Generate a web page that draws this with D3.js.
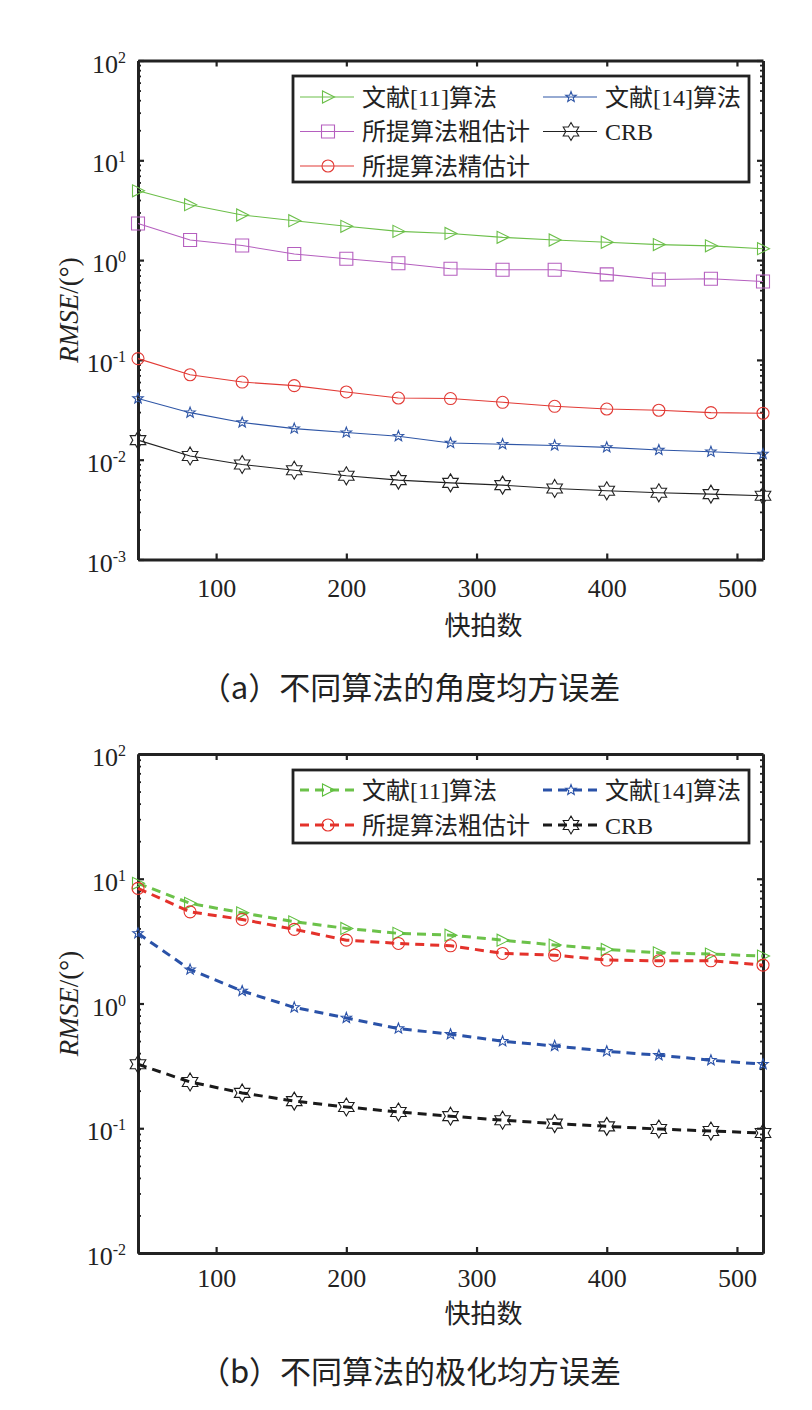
<!DOCTYPE html>
<html>
<head>
<meta charset="utf-8">
<script src="https://cdn.jsdelivr.net/npm/d3@7"></script>
<style>
  body { margin: 0; background: #fff; }
  text { fill: #222; }
</style>
</head>
<body>
<svg id="chart" width="812" height="1410"></svg>
<script>
// snapshot counts (x axis)
const snapshots = [40, 80, 120, 160, 200, 240, 280, 320, 360, 400, 440, 480, 520];
const xTicks = [100, 200, 300, 400, 500];

// (a) angle RMSE
const angRef11   = [4.95, 3.59, 2.83, 2.48, 2.18, 1.94, 1.85, 1.69, 1.59, 1.51, 1.43, 1.39, 1.30];
const angRef14   = [0.041, 0.0296, 0.0236, 0.0205, 0.0187, 0.0172, 0.0147, 0.0143, 0.0139, 0.0133, 0.0125, 0.0120, 0.0114];
const angCoarse  = [2.33, 1.59, 1.40, 1.15, 1.03, 0.93, 0.82, 0.80, 0.80, 0.72, 0.64, 0.65, 0.61];
const angFine    = [0.103, 0.071, 0.060, 0.0552, 0.0477, 0.0415, 0.041, 0.0376, 0.0343, 0.0322, 0.0313, 0.0296, 0.0292];
const angCRB     = [0.0157, 0.0109, 0.00895, 0.00785, 0.0069, 0.00624, 0.00586, 0.00556, 0.00515, 0.00488, 0.00466, 0.00452, 0.00435];

// (b) polarization RMSE
const polRef11   = [9.19, 6.35, 5.33, 4.52, 4.0, 3.65, 3.53, 3.22, 2.94, 2.71, 2.55, 2.49, 2.40];
const polRef14   = [3.65, 1.87, 1.26, 0.93, 0.766, 0.63, 0.567, 0.498, 0.457, 0.414, 0.385, 0.351, 0.326];
const polCoarse  = [8.38, 5.43, 4.72, 3.93, 3.22, 3.03, 2.90, 2.52, 2.44, 2.23, 2.20, 2.20, 2.03];
const polCRB     = [0.326, 0.235, 0.192, 0.165, 0.148, 0.135, 0.125, 0.116, 0.109, 0.1035, 0.0986, 0.095, 0.0916];

const labels = {
  ref11: "文献[11]算法",
  ref14: "文献[14]算法",
  coarse: "所提算法粗估计",
  fine: "所提算法精估计",
  crb: "CRB"
};

const serif = "'Liberation Serif', 'Noto Sans CJK SC', serif";
const numFont = "'Liberation Serif', serif";
const svg = d3.select("#chart");

// marker shapes
function starPath(n, ro, ri) {
  const pts = [];
  for (let i = 0; i < 2 * n; i++) {
    const r = i % 2 === 0 ? ro : ri;
    const a = -Math.PI / 2 + (Math.PI * i) / n;
    pts.push([r * Math.cos(a), r * Math.sin(a)]);
  }
  return "M" + pts.map(p => p[0].toFixed(2) + "," + p[1].toFixed(2)).join("L") + "Z";
}
const markers = {
  tri: "M6.5,0L-5.5,-6L-5.5,6Z",
  square: "M-6.5,-6.5H6.5V6.5H-6.5Z",
  circle: "M6,0A6,6 0 1,1 -6,0A6,6 0 1,1 6,0Z",
  star: starPath(5, 5.5, 2.3),
  hexa: starPath(6, 9, 5.2)
};

function drawPanel(cfg) {
  const left = 138, width = 625, height = 499;
  const g = svg.append("g").attr("transform", `translate(${left},${cfg.top})`);

  const x = d3.scaleLinear().domain([40, 520]).range([0, width]);
  const y = d3.scaleLog().domain(cfg.yDomain).range([height, 0]);

  const lo = Math.log10(cfg.yDomain[0]), hi = Math.log10(cfg.yDomain[1]);
  const decades = d3.range(lo, hi + 1).map(e => Math.pow(10, e));
  const minors = [];
  d3.range(lo, hi).forEach(e => {
    for (let k = 2; k <= 9; k++) minors.push(k * Math.pow(10, e));
  });

  const styleAxis = (sel, w) => {
    sel.select(".domain").attr("stroke", "#222").attr("stroke-width", 2.8);
    sel.selectAll(".tick line").attr("stroke", "#222").attr("stroke-width", w);
  };

  // minor log ticks
  g.append("g").call(d3.axisLeft(y).tickValues(minors).tickSize(-3).tickSizeOuter(0).tickFormat(""))
    .call(s => styleAxis(s, 1.8));
  g.append("g").attr("transform", `translate(${width},0)`)
    .call(d3.axisRight(y).tickValues(minors).tickSize(-3).tickSizeOuter(0).tickFormat(""))
    .call(s => styleAxis(s, 1.8));
  // major ticks
  g.append("g").call(d3.axisLeft(y).tickValues(decades).tickSize(-6).tickSizeOuter(0).tickFormat(""))
    .call(s => styleAxis(s, 2.2));
  g.append("g").attr("transform", `translate(${width},0)`)
    .call(d3.axisRight(y).tickValues(decades).tickSize(-6).tickSizeOuter(0).tickFormat(""))
    .call(s => styleAxis(s, 2.2));
  g.append("g").call(d3.axisTop(x).tickValues(xTicks).tickSize(-6).tickSizeOuter(0).tickFormat(""))
    .call(s => styleAxis(s, 2.2));
  const xb = g.append("g").attr("transform", `translate(0,${height})`)
    .attr("font-family", numFont)
    .call(d3.axisBottom(x).tickValues(xTicks).tickSize(-6).tickSizeOuter(0).tickPadding(0));
  xb.attr("font-family", numFont);
  styleAxis(xb, 2.2);
  xb.selectAll(".tick text")
    .attr("y", cfg.xLabelDy).attr("dy", 0)
    .style("font-family", numFont).attr("font-size", 26).attr("fill", "#222");

  // y tick labels 10^n
  decades.forEach(v => {
    const t = g.append("text")
      .attr("x", -12).attr("y", y(v) + 12)
      .attr("text-anchor", "end")
      .style("font-family", numFont).attr("font-size", 26);
    t.append("tspan").text("10");
    t.append("tspan").attr("font-size", 16).attr("dy", -10).text(Math.round(Math.log10(v)));
  });

  // axis titles
  const yl = g.append("text")
    .attr("transform", `translate(-60,${height / 2}) rotate(-90)`)
    .attr("text-anchor", "middle")
    .style("font-family", numFont).attr("font-size", 27);
  yl.append("tspan").attr("font-style", "italic").text("RMSE");
  yl.append("tspan").text("/(°)");

  g.append("text")
    .attr("x", x(300) + 7).attr("y", height + cfg.xTitleDy)
    .attr("text-anchor", "middle")
    .attr("font-family", "'Noto Sans CJK SC', sans-serif").attr("font-size", 26)
    .text("快拍数");

  // series
  const line = d3.line().x(d => x(d[0])).y(d => y(d[1]));
  cfg.series.forEach(s => {
    const pts = snapshots.map((n, i) => [n, s.values[i]]);
    g.append("path")
      .attr("d", line(pts))
      .attr("fill", "none")
      .attr("stroke", s.lineColor || s.color)
      .attr("stroke-width", cfg.lineWidth)
      .attr("stroke-dasharray", cfg.dash);
    g.selectAll(null).data(pts).enter().append("path")
      .attr("d", markers[s.marker])
      .attr("transform", d => `translate(${x(d[0])},${y(d[1])})`)
      .attr("fill", "none")
      .attr("stroke", s.color)
      .attr("stroke-width", 1.1);
  });

  // legend
  const lg = g.append("g").attr("transform", `translate(${293 - left},${cfg.legend.top - cfg.top})`);
  lg.append("rect")
    .attr("width", 456).attr("height", cfg.legend.height)
    .attr("fill", "#fff").attr("stroke", "#222").attr("stroke-width", 2.8);
  cfg.series.forEach(s => {
    const col = s.legendPos[0], row = s.legendPos[1];
    const x0 = col === 0 ? 7 : 250;
    const yy = cfg.legend.row0 + row * cfg.legend.rowGap;
    lg.append("line")
      .attr("x1", x0).attr("x2", x0 + 54).attr("y1", yy).attr("y2", yy)
      .attr("stroke", s.lineColor || s.color)
      .attr("stroke-width", cfg.lineWidth)
      .attr("stroke-dasharray", cfg.dash);
    lg.append("path")
      .attr("d", markers[s.marker])
      .attr("transform", `translate(${x0 + 28},${yy})`)
      .attr("fill", "none").attr("stroke", s.color).attr("stroke-width", 1.1);
    lg.append("text")
      .attr("x", x0 + 62).attr("y", yy + 8.5)
      .attr("font-family", serif).attr("font-size", 24)
      .text(s.label);
  });

  // caption
  svg.append("text")
    .attr("x", 410).attr("y", cfg.captionY)
    .attr("text-anchor", "middle")
    .attr("font-family", "'Noto Sans CJK SC', sans-serif").attr("font-size", 31)
    .text(cfg.caption);
}

drawPanel({
  top: 60.5,
  yDomain: [1e-3, 1e2],
  lineWidth: 1.1,
  dash: null,
  xLabelDy: 37,
  xTitleDy: 75,
  captionY: 699,
  caption: "（a）不同算法的角度均方误差",
  legend: { top: 76, height: 106, row0: 21, rowGap: 34.5 },
  series: [
    { label: labels.ref11, values: angRef11, color: "#6cbf4a", marker: "tri", legendPos: [0, 0] },
    { label: labels.coarse, values: angCoarse, color: "#b55fbf", marker: "square", legendPos: [0, 1] },
    { label: labels.fine, values: angFine, color: "#e23b36", marker: "circle", legendPos: [0, 2] },
    { label: labels.ref14, values: angRef14, color: "#2f56a6", marker: "star", legendPos: [1, 0] },
    { label: labels.crb, values: angCRB, color: "#222", marker: "hexa", legendPos: [1, 1] }
  ]
});

drawPanel({
  top: 754,
  yDomain: [1e-2, 1e2],
  lineWidth: 3,
  dash: "9,6",
  xLabelDy: 34,
  xTitleDy: 70,
  captionY: 1383,
  caption: "（b）不同算法的极化均方误差",
  legend: { top: 770, height: 73, row0: 20, rowGap: 35 },
  series: [
    { label: labels.ref11, values: polRef11, color: "#5fbf3f", lineColor: "#6cc24a", marker: "tri", legendPos: [0, 0] },
    { label: labels.coarse, values: polCoarse, color: "#e4322b", marker: "circle", legendPos: [0, 1] },
    { label: labels.ref14, values: polRef14, color: "#2a52a8", marker: "star", legendPos: [1, 0] },
    { label: labels.crb, values: polCRB, color: "#1a1a1a", marker: "hexa", legendPos: [1, 1] }
  ]
});
</script>
</body>
</html>
